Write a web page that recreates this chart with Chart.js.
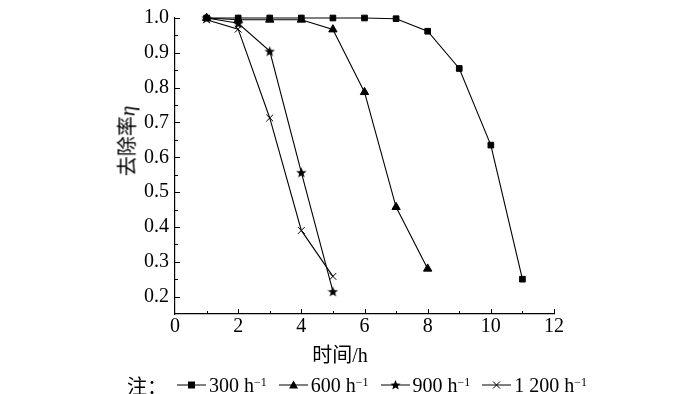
<!DOCTYPE html>
<html>
<head>
<meta charset="utf-8">
<script src="https://cdn.jsdelivr.net/npm/chart.js@4"></script>
<style>
  body { margin: 0; background: #fff; }
  #wrap { position: relative; width: 700px; height: 394px; font-family: "Liberation Serif", "Noto Sans CJK SC", serif; color: #000; }
  #chart { position: absolute; left: 0; top: 0; }
  .cjk { font-family: "Noto Sans CJK SC", sans-serif; }
  #ytitle { position: absolute; left: 126px; top: 141px; transform: translate(-50%, -50%) rotate(-90deg); font-size: 20px; white-space: nowrap; }
  #ytitle i { font-family: "Liberation Serif", serif; font-size: 21px; }
  #xtitle { position: absolute; left: 340px; top: 353px; transform: translate(-50%, -50%); font-size: 20px; white-space: nowrap; }
  #legend { position: absolute; left: 127px; top: 385px; transform: translateY(-50%); font-size: 20px; white-space: nowrap; display: flex; align-items: center; }
  #legend .item { display: flex; align-items: center; margin-right: 12px; }
  #legend svg { margin-right: 3px; }
  #legend sup { font-size: 12px; position: relative; top: -3px; }
</style>
</head>
<body>
<div id="wrap">
  <canvas id="chart" width="700" height="394"></canvas>
  <div id="ytitle"><span class="cjk">去除率</span><i>η</i></div>
  <div id="xtitle"><span class="cjk">时间</span>/h</div>
  <div id="legend"></div>
</div>
<script>
const hours = [1, 2, 3, 4, 5, 6, 7, 8, 9, 10, 11];
const seriesNames = ['300', '600', '900', '1 200'];
const removal300 = [1.0, 1.0, 1.0, 1.0, 1.0, 1.0, 0.998, 0.962, 0.855, 0.635, 0.25];
const removal600 = [1.0, 0.995, 0.995, 0.995, 0.967, 0.787, 0.457, 0.28];
const removal900 = [1.0, 0.985, 0.905, 0.557, 0.215];
const removal1200 = [0.995, 0.968, 0.713, 0.39, 0.258];

function starImage(size) {
  const c = document.createElement('canvas');
  c.width = size;
  c.height = size;
  const ctx = c.getContext('2d');
  const r = size / 2;
  ctx.beginPath();
  for (let i = 0; i < 10; i += 1) {
    const rad = i % 2 === 0 ? r : r * 0.42;
    const a = -Math.PI / 2 + i * Math.PI / 5;
    const px = r + rad * Math.cos(a);
    const py = r + 0.6 + rad * Math.sin(a);
    if (i === 0) ctx.moveTo(px, py); else ctx.lineTo(px, py);
  }
  ctx.closePath();
  ctx.fillStyle = '#000';
  ctx.fill();
  return c;
}

const star = starImage(11);

function points(values) {
  return values.map((v, i) => ({ x: hours[i], y: v }));
}

function dataset(label, values, style, radius) {
  return {
    label,
    data: points(values),
    borderColor: '#000',
    backgroundColor: '#000',
    borderWidth: 1.1,
    pointStyle: style,
    pointRadius: radius,
    pointBorderWidth: 1,
    pointBorderColor: '#000',
    pointBackgroundColor: '#000',
    tension: 0,
    clip: false,
  };
}

const inwardTicks = {
  id: 'inwardTicks',
  afterDraw(chart) {
    const { ctx, scales: { x, y } } = chart;
    ctx.save();
    ctx.strokeStyle = '#000';
    ctx.lineWidth = 1;
    const left = x.left;
    const bottom = y.bottom;
    for (let v = 0.2; v <= 1.0001; v += 0.05) {
      const py = Math.round(y.getPixelForValue(v)) + 0.5;
      const major = Math.abs(Math.round(v * 10) - v * 10) < 1e-6;
      ctx.beginPath();
      ctx.moveTo(left, py);
      ctx.lineTo(left + (major ? 5 : 3), py);
      ctx.stroke();
    }
    for (let v = 1; v <= 12; v += 1) {
      const px = Math.round(x.getPixelForValue(v)) + 0.5;
      ctx.beginPath();
      ctx.moveTo(px, bottom);
      ctx.lineTo(px, bottom - (v % 2 === 0 ? 5 : 3));
      ctx.stroke();
    }
    ctx.restore();
  },
};

const tickFont = { family: '"Liberation Serif", serif', size: 20 };

new Chart(document.getElementById('chart'), {
  type: 'line',
  data: {
    datasets: [
      dataset(seriesNames[0], removal300, 'rect', 4),
      dataset(seriesNames[1], removal600, 'triangle', 4.8),
      dataset(seriesNames[2], removal900, star, 5),
      dataset(seriesNames[3], removal1200, 'crossRot', 4.8),
    ],
  },
  options: {
    responsive: false,
    animation: false,
    layout: { padding: { left: 0, right: 146, top: 5, bottom: 0 } },
    plugins: { legend: { display: false }, tooltip: { enabled: false } },
    scales: {
      x: {
        type: 'linear',
        min: 0,
        max: 12,
        ticks: { stepSize: 2, color: '#000', font: tickFont, padding: 1, maxRotation: 0 },
        grid: { drawOnChartArea: false, drawTicks: false },
        border: { display: true, color: '#000', width: 1.2 },
        afterFit(scale) { scale.height = 80; },
      },
      y: {
        type: 'linear',
        min: 0.15,
        max: 1.0,
        ticks: {
          stepSize: 0.1,
          includeBounds: false,
          color: '#000',
          font: tickFont,
          padding: 6,
          callback: v => v.toFixed(1),
        },
        grid: { drawOnChartArea: false, drawTicks: false },
        border: { display: true, color: '#000', width: 1.2 },
        afterFit(scale) { scale.width = 175; },
      },
    },
  },
  plugins: [inwardTicks],
});

const legendIcons = [
  '<rect x="11" y="3" width="7" height="7" fill="#000"/>',
  '<polygon points="14.5,2 19,10 10,10" fill="#000"/>',
  '<polygon points="14.5,1.5 15.9,5 19.5,5.3 16.8,7.5 17.7,11 14.5,9 11.3,11 12.2,7.5 9.5,5.3 13.1,5" fill="#000"/>',
  '<path d="M11 3 L18 10 M18 3 L11 10" stroke="#000" stroke-width="1"/>',
];

const legend = document.getElementById('legend');
legend.innerHTML = '<span class="cjk" style="margin-right:10px">注：</span>' + seriesNames.map((name, i) =>
  `<span class="item"><svg width="29" height="13"><line x1="0" y1="6.5" x2="29" y2="6.5" stroke="#000" stroke-width="1"/>${legendIcons[i]}</svg>${name} h<sup>−1</sup></span>`
).join('');
</script>
</body>
</html>
